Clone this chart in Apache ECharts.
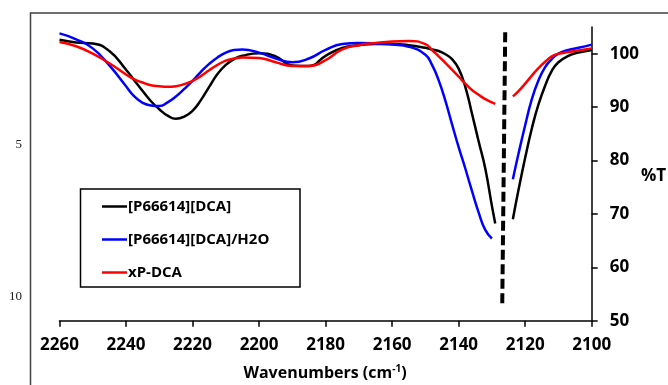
<!DOCTYPE html>
<html>
<head>
<meta charset="utf-8">
<script src="https://cdn.jsdelivr.net/npm/echarts@6/dist/echarts.min.js"></script>
<style>
html,body{margin:0;padding:0;background:#fff;}
#chart{width:668px;height:385px;}
</style>
</head>
<body>
<div id="chart"></div>
<script>
// Wavenumber grid (cm-1); null values break the curves
var wavenumbers = [2260,2255,2250,2245,2240,2237.5,2235,2232.5,2230,2227.5,2225,2222.5,2220,2217.5,2215,2212.5,2210,2207.5,2205,
  2200,2195,2190,2185,2180,2175,2170,2165,2160,2155,2150,
  2148,2146,2144,2142,2140,2138,2136,2134,2132,2130,2129,
  2126,
  2123.7,2122,2120,2118,2116,2114,2112,2110,2107,2104,2100];
var ilT = [102.6,102.1,101.9,100.5,97.0,95.0,93.0,91.1,89.6,88.4,87.8,88.2,89.3,91.3,93.8,96.2,97.9,99.0,99.6,
  100.1,99.5,97.8,97.7,99.6,101.1,101.6,101.8,101.8,101.6,101.1,
  100.8,100.5,99.9,99.0,97.2,93.8,88.8,83.6,78.5,71.5,68.2,
  null,
  69.0,74.5,80.5,86.0,90.5,94.0,96.8,98.4,99.6,100.2,100.7];
var ilH2OT = [103.8,102.7,101.0,97.8,93.9,92.0,90.8,90.3,90.2,90.9,92.0,93.4,94.9,96.6,98.1,99.3,100.2,100.7,100.8,
  100.2,99.1,98.4,99.1,100.7,101.8,102.0,101.9,101.7,101.3,99.8,
  97.9,95.0,91.2,86.8,82.5,78.5,74.3,70.3,67.0,65.4,null,
  null,
  76.5,81.3,86.6,91.5,95.0,97.5,99.0,100.0,100.7,101.1,101.7];
var xpT = [102.2,101.4,100.0,98.2,96.1,95.2,94.6,94.1,93.9,93.8,93.9,94.3,94.9,95.8,96.9,97.9,98.7,99.1,99.3,
  99.2,98.4,97.7,97.7,98.8,100.8,101.6,102.0,102.3,102.4,101.8,
  100.7,99.5,98.3,97.0,95.7,94.4,93.2,92.3,91.5,90.9,90.6,
  null,
  92.0,93.0,94.4,95.9,97.3,98.5,99.5,100.0,100.3,100.6,101.0];
var seriesNames = ['[P66614][DCA]','[P66614][DCA]/H2O','xP-DCA'];
var dashWn = [2126.0, 2126.9];
var dashT  = [104, 52.6];
var xTicks = [2260,2240,2220,2200,2180,2160,2140,2120,2100];
var yTicks = [50,60,70,80,90,100];
var leftLabels = ['5','10'];

function pairs(xs, ys){ return xs.map(function(x,i){ return [x, ys[i]]; }); }

var font = '"Open Sans", "Liberation Sans", sans-serif';
var chart = echarts.init(document.getElementById('chart'));
var lineBase = {type:'line', showSymbol:false, smooth:0.5, connectNulls:false, z:3};
chart.setOption({
  animation:false,
  backgroundColor:'#fff',
  grid:{left:59.5, right:76.3, top:27, bottom:64.3},
  xAxis:{
    type:'value', inverse:true, min:2100, max:2260, interval:20,
    axisLine:{show:true, lineStyle:{color:'#000', width:1.5}},
    axisTick:{show:true, inside:false, length:6, lineStyle:{color:'#000', width:1.5}, customValues:xTicks},
    axisLabel:{color:'#000', fontFamily:font, fontWeight:'bold', fontSize:17, margin:16, customValues:xTicks,
      formatter:function(v){ return String(v); }},
    splitLine:{show:false}
  },
  yAxis:{
    type:'value', position:'right', min:50, max:105, interval:10,
    axisLine:{show:true, lineStyle:{color:'#000', width:1.5}},
    axisTick:{show:true, inside:false, length:6, lineStyle:{color:'#000', width:1.5}, customValues:yTicks},
    axisLabel:{color:'#000', fontFamily:font, fontWeight:'bold', fontSize:17, margin:18, customValues:yTicks,
      formatter:function(v){ return String(v); }},
    splitLine:{show:false}
  },
  legend:{
    data:seriesNames, orient:'vertical', left:102, top:198, padding:0,
    itemGap:16, itemWidth:25, itemHeight:2.5, icon:'rect',
    textStyle:{color:'#000', fontFamily:font, fontWeight:'bold', fontSize:15, lineHeight:17, padding:[0,0,0,-4]}
  },
  graphic:[
    {type:'rect', shape:{x:30.5, y:13, width:700, height:400}, style:{fill:null, stroke:'#404040', lineWidth:1.5}, z:0, silent:true},
    {type:'rect', shape:{x:80.5, y:189, width:219.5, height:98}, style:{fill:'#fff', stroke:'#000', lineWidth:1.5}, z:1, silent:true},
    {type:'text', x:22, y:145, style:{text:leftLabels[0], fill:'#222', font:'13px "Liberation Serif", serif', align:'right', verticalAlign:'middle'}},
    {type:'text', x:22, y:297, style:{text:leftLabels[1], fill:'#222', font:'13px "Liberation Serif", serif', align:'right', verticalAlign:'middle'}},
    {type:'text', x:641, y:176, style:{text:'%T', fill:'#000', font:'bold 17px '+font, align:'left', verticalAlign:'middle'}},
    {type:'text', x:325, y:373, style:{
      text:'{a|Wavenumbers (cm}{s|-1}{a|)}', align:'center', verticalAlign:'middle',
      rich:{a:{fontFamily:font, fontWeight:'bold', fontSize:16, color:'#000'},
            s:{fontFamily:font, fontWeight:'bold', fontSize:10, color:'#000', verticalAlign:'top', padding:[0,0,8,0]}}
    }}
  ],
  series:[
    Object.assign({}, lineBase, {name:seriesNames[0], data:pairs(wavenumbers, ilT), lineStyle:{color:'#000', width:2.5}, itemStyle:{color:'#000'}}),
    Object.assign({}, lineBase, {name:seriesNames[1], data:pairs(wavenumbers, ilH2OT), lineStyle:{color:'#0000ff', width:2.5}, itemStyle:{color:'#0000ff'}}),
    Object.assign({}, lineBase, {name:seriesNames[2], data:pairs(wavenumbers, xpT), lineStyle:{color:'#ff0000', width:2.5}, itemStyle:{color:'#ff0000'}}),
    {type:'line', name:'marker', data:pairs(dashWn, dashT), showSymbol:false, z:4,
     lineStyle:{color:'#000', width:4, type:[10,4.5]}}
  ]
});
</script>
</body>
</html>
